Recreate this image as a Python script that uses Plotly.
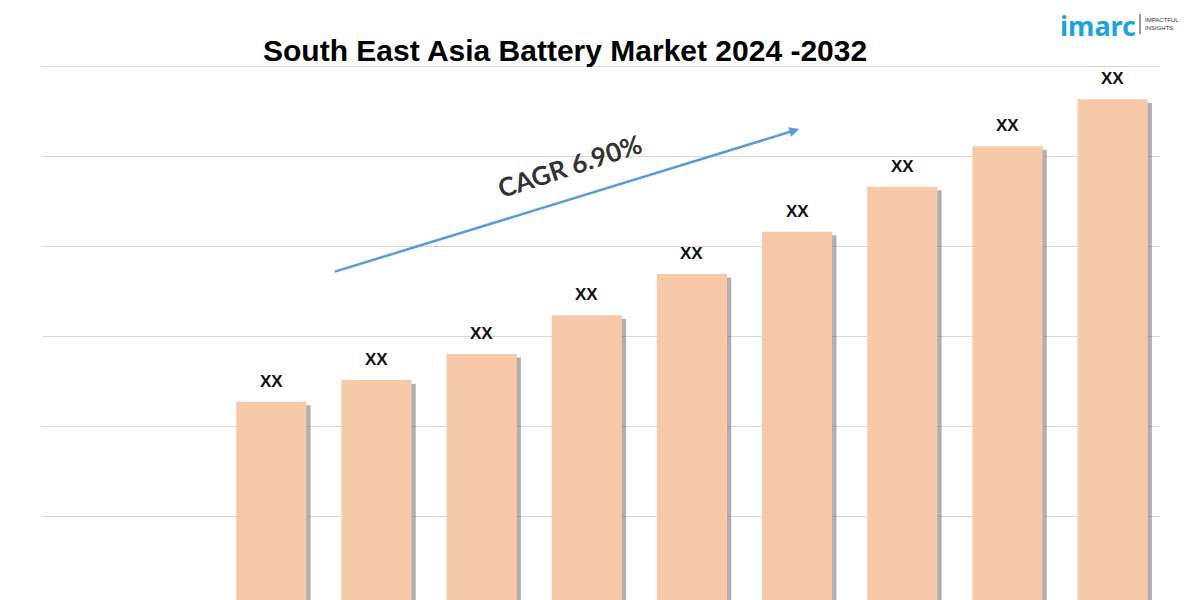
import plotly.graph_objects as go

years = ["2024", "2025", "2026", "2027", "2028", "2029", "2030", "2031", "2032"]
values = [2.27, 2.51, 2.80, 3.23, 3.69, 4.16, 4.66, 5.11, 5.63]
labels = ["XX"] * len(years)

title_text = "South East Asia Battery Market 2024 -2032"
cagr_text = "CAGR 6.90%"

idx = list(range(len(years)))
bar_w = 0.667

# page body has an 8px margin; figure coords = screen - 8
L, T, W, H = 34, 52, 1200, 600
PW = 1118
PH = H - T

def px(xs):
    return (xs - 8 - L) / PW

def py(ys):
    return 1 - (ys - 8 - T) / PH

fig = go.Figure()
# shadow
fig.add_trace(go.Bar(
    x=idx, y=[v - 0.04 for v in values], width=bar_w, offset=-bar_w / 2 + 0.04,
    marker=dict(color="rgba(95,95,95,0.5)", line=dict(width=0)),
    hoverinfo="skip", showlegend=False,
))
fig.add_trace(go.Bar(
    x=idx, y=values, width=bar_w, offset=-bar_w / 2,
    marker=dict(color="#F8C9A9", line=dict(width=0)),
    showlegend=False,
))

for i, v in enumerate(values):
    fig.add_annotation(
        x=i, y=v, xref="x", yref="y", text="<b>" + labels[i] + "</b>",
        showarrow=False, yanchor="bottom", yshift=9,
        font=dict(family="Liberation Sans, Arial", size=17, color="#111111"),
    )

fig.update_layout(
    width=W, height=H,
    margin=dict(l=L, r=W - L - PW, t=T, b=0),
    paper_bgcolor="white", plot_bgcolor="white",
    barmode="overlay",
    xaxis=dict(range=[-2.18, 8.45], showgrid=False, showticklabels=False,
               zeroline=False, showline=False, ticks=""),
    yaxis=dict(range=[-0.022, 6.067], dtick=1, showgrid=True, gridcolor="#D9D9D9",
               gridwidth=1, showticklabels=False, zeroline=False, showline=False),
)

fig.add_annotation(
    text="<b>" + title_text + "</b>", xref="paper", yref="paper",
    x=px(565), y=py(50), xanchor="center", yanchor="middle",
    showarrow=False, font=dict(family="Liberation Sans, Arial", size=30, color="#000000"),
)

# CAGR arrow
fig.add_annotation(
    x=5.02, y=5.30, ax=0.59, ay=3.71, xref="x", yref="y", axref="x", ayref="y",
    showarrow=True, arrowhead=2, arrowsize=0.8, arrowwidth=2.5, arrowcolor="#5B9BD5",
    text="",
)
fig.add_annotation(
    text="<b>" + cagr_text + "</b>", xref="paper", yref="paper",
    x=px(569), y=py(125), showarrow=False,
    textangle=-18, font=dict(family="Lato, Open Sans", size=26, color="#333333"),
)

# logo
fig.add_annotation(
    text="<b>imarc</b>", xref="paper", yref="paper",
    x=px(1098), y=py(25), xanchor="center", yanchor="middle",
    showarrow=False, font=dict(family="Noto Sans", size=27, color="#1BA3DB"),
)
fig.add_annotation(
    text="IMPACTFUL<br>INSIGHTS", xref="paper", yref="paper",
    x=px(1143), y=py(24), xanchor="left", yanchor="middle",
    showarrow=False, align="left",
    font=dict(family="Liberation Sans, Arial", size=6, color="#333333"),
)
fig.add_shape(type="line", xref="paper", yref="paper",
              x0=px(1140), x1=px(1140), y0=py(14), y1=py(34),
              line=dict(color="#333333", width=1))

fig.write_html("out.html")
